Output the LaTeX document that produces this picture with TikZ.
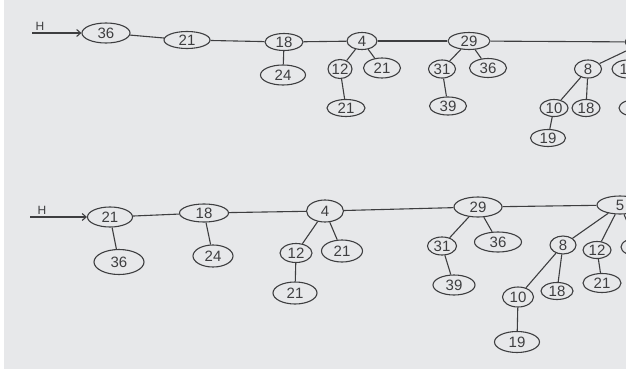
\documentclass[tikz,border=0pt]{standalone}
\usepackage{fontspec}
\setmainfont{Liberation Sans}
\usetikzlibrary{shapes.geometric, arrows.meta}

\definecolor{paper}{RGB}{231,232,234}
\definecolor{pen}{RGB}{62,62,64}

\tikzset{
  key/.style={ellipse, draw=pen, line width=1.1pt, inner sep=0pt,
    minimum width=36, minimum height=18, text=pen,
    font=\fontsize{15}{15}\selectfont},
  link/.style={draw=pen, line width=1.1pt},
  headptr/.style={draw=pen, line width=1.1pt, -{Straight Barb[length=4pt, width=7pt]}},
  headlabel/.style={text=pen, font=\fontsize{12}{12}\selectfont, inner sep=0pt}
}

\begin{document}
\begin{tikzpicture}[x=1pt, y=-1pt]
        % Paper
        \useasboundingbox (0,0) rectangle (626,372);
        \fill[white] (0,0) rectangle (626,372);
        \fill[paper] (4,0) rectangle (626,369);
        \clip (0,0) rectangle (626,372);

        % Upper heap: root list
        \node[headlabel] (tH) at (40,26) {H};
        \coordinate (tHs) at (32,33);
        \node[key, minimum width=48, minimum height=20] (t36) at (106,33) {36};
        \node[key, minimum width=46, minimum height=17] (t21) at (187,40) {21};
        \node[key, minimum width=38, minimum height=17] (t18) at (284,42) {18};
        \node[key, minimum width=30, minimum height=17] (t4) at (362,41) {4};
        \node[key, minimum width=42, minimum height=17] (t29) at (469,41) {29};
        \node[key, minimum width=40, minimum height=16] (t5) at (645,42) {5};
        \draw[headptr] (tHs) -- (t36);
        \draw[link] (t36) -- (t21);
        \draw[link] (t21) -- (t18);
        \draw[link] (t18) -- (t4);
        \draw[link] (t4) -- (t29);
        \draw[link] (t29) -- (t5);

        % Upper heap: children
        \node[key, minimum width=45, minimum height=20] (t24) at (283,75) {24};
        \node[key, minimum width=24, minimum height=19] (t12) at (340,69) {12};
        \node[key, minimum width=37, minimum height=20] (t21b) at (382,68) {21};
        \node[key, minimum width=38, minimum height=17] (t21c) at (346,108) {21};
        \node[key, minimum width=27, minimum height=18] (t31) at (442,69) {31};
        \node[key, minimum width=37, minimum height=19] (t36b) at (488,68) {36};
        \node[key, minimum width=37, minimum height=18] (t39) at (448,106) {39};
        \node[key, minimum width=27, minimum height=18] (t8) at (588,69) {8};
        \node[key, minimum width=32, minimum height=18] (t12b) at (628,69) {12};
        \node[key, minimum width=28, minimum height=17] (t10) at (554,108) {10};
        \node[key, minimum width=28, minimum height=17] (t18b) at (586,108) {18};
        \node[key, minimum width=34, minimum height=17] (t21d) at (636,108) {21};
        \node[key, minimum width=35, minimum height=17] (t19) at (548,138) {19};
        \draw[link] (t18) -- (t24);
        \draw[link] (t4) -- (t12);
        \draw[link] (t4) -- (t21b);
        \draw[link] (t12) -- (t21c);
        \draw[link] (t29) -- (t31);
        \draw[link] (t29) -- (t36b);
        \draw[link] (t31) -- (t39);
        \draw[link] (t5) -- (t8);
        \draw[link] (t5) -- (t12b);
        \draw[link] (t8) -- (t10);
        \draw[link] (t8) -- (t18b);
        \draw[link] (t10) -- (t19);
        \draw[link] (t12b) -- (t21d);

        % Lower heap: root list
        \node[headlabel] (bH) at (42,210) {H};
        \coordinate (bHs) at (30,217);
        \node[key, minimum width=45, minimum height=20] (b21) at (110,217) {21};
        \node[key, minimum width=49, minimum height=18] (b18) at (204,213) {18};
        \node[key, minimum width=37, minimum height=22] (b4) at (325,211) {4};
        \node[key, minimum width=48, minimum height=20] (b29) at (478,207) {29};
        \node[key, minimum width=46, minimum height=18] (b5) at (620,205) {5};
        \draw[headptr] (bHs) -- (b21);
        \draw[link] (b21) -- (b18);
        \draw[link] (b18) -- (b4);
        \draw[link] (b4) -- (b29);
        \draw[link] (b29) -- (b5);

        % Lower heap: children
        \node[key, minimum width=50, minimum height=25] (b36) at (119,262) {36};
        \node[key, minimum width=40, minimum height=22] (b24) at (213,256) {24};
        \node[key, minimum width=32, minimum height=19] (b12) at (296,253) {12};
        \node[key, minimum width=41, minimum height=22] (b21b) at (342,251) {21};
        \node[key, minimum width=44, minimum height=22] (b21c) at (295,293) {21};
        \node[key, minimum width=29, minimum height=18] (b31) at (442,246) {31};
        \node[key, minimum width=47, minimum height=20] (b36b) at (498,242) {36};
        \node[key, minimum width=42, minimum height=20] (b39) at (454,285) {39};
        \node[key, minimum width=26, minimum height=18] (b8) at (563,245) {8};
        \node[key, minimum width=28, minimum height=17] (b12b) at (597,250) {12};
        \node[key, minimum width=34, minimum height=18] (b12c) at (638,247) {12};
        \node[key, minimum width=31, minimum height=20] (b10) at (518,297) {10};
        \node[key, minimum width=32, minimum height=17] (b18b) at (557,291) {18};
        \node[key, minimum width=38, minimum height=19] (b21d) at (602,283) {21};
        \node[key, minimum width=45, minimum height=21] (b19) at (517,342) {19};
        \draw[link] (b21) -- (b36);
        \draw[link] (b18) -- (b24);
        \draw[link] (b4) -- (b12);
        \draw[link] (b4) -- (b21b);
        \draw[link] (b12) -- (b21c);
        \draw[link] (b29) -- (b31);
        \draw[link] (b29) -- (b36b);
        \draw[link] (b31) -- (b39);
        \draw[link] (b5) -- (b8);
        \draw[link] (b5) -- (b12b);
        \draw[link] (b5) -- (b12c);
        \draw[link] (b8) -- (b10);
        \draw[link] (b8) -- (b18b);
        \draw[link] (b10) -- (b19);
        \draw[link] (b12b) -- (b21d);
    \end{tikzpicture}
\end{document}
